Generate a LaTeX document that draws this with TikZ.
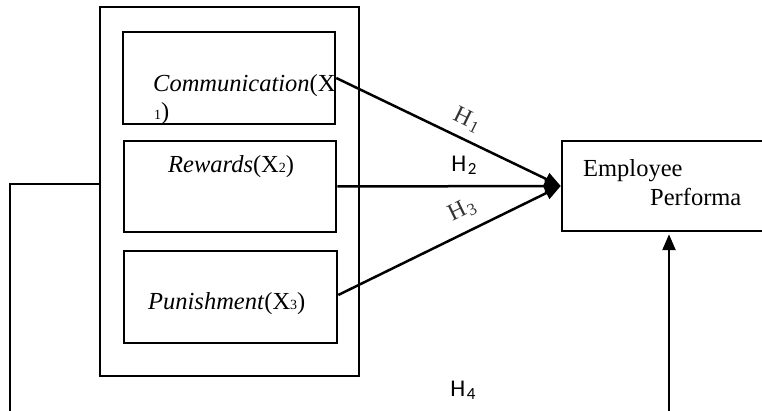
\documentclass[tikz,border=0pt]{standalone}
\usepackage{fontspec}
\setmainfont{Liberation Serif}
\newfontfamily\labelsans{Carlito}
\usetikzlibrary{arrows.meta}

\tikzset{
  frame/.style={draw, line width=2.5pt, inner sep=0pt},
  txt/.style={inner sep=0pt, font=\fontsize{24.5}{28}\selectfont},
  link/.style={line width=2.5pt},
  arrowlink/.style={line width=2.5pt, -{Triangle[length=16pt,width=13pt]}},
  hsans/.style={inner sep=0pt, font=\labelsans\fontsize{24}{28}\selectfont},
  hserif/.style={inner sep=0pt, text=black!80, font=\fontsize{24}{28}\selectfont},
}
\newcommand{\sdig}[1]{{\fontsize{14}{16}\selectfont #1}}
\newcommand{\hsub}[1]{\hspace{1.5pt}\raisebox{-3pt}{\fontsize{17}{19}\selectfont #1}}

\begin{document}
\begin{tikzpicture}[x=1pt,y=-1pt]
  \clip (0,0) rectangle (762,411);

  % predictor group and its three boxes
  \node[frame, minimum width=259pt, minimum height=369pt] (outer) at (229.5,191.5) {};
  \node[frame, minimum width=212pt, minimum height=92pt] (comm) at (229,78) {};
  \node[frame, minimum width=212pt, minimum height=91pt] (rew) at (230,186.5) {};
  \node[frame, minimum width=213pt, minimum height=92pt] (pun) at (230.5,297) {};

  % outcome box (runs past the right edge)
  \node[frame, minimum width=240pt, minimum height=90pt] (emp) at (682,186) {};

  % box texts
  \node[txt, anchor=base west] (commA) at (153,92) {\textit{Communication}(X};
  \node[txt, anchor=base west] (commB) at (154,120) {\sdig{1})};
  \node[txt, anchor=base west] (rewT) at (168,173) {\textit{Rewards}(X\sdig{2})};
  \node[txt, anchor=base west] (punT) at (148,309) {\textit{Punishment}(X\sdig{3})};
  \node[txt, anchor=base west] (empA) at (583,177) {Employee};
  \node[txt, anchor=base west] (empB) at (650,206) {Performa};

  % hypothesised paths
  \draw[arrowlink] (comm.east) -- (emp.west);
  \draw[arrowlink] (rew.east) -- (emp.west);
  \draw[arrowlink] (pun.east |- 0,295) -- (emp.west);

  % path labels
  \node[hserif, rotate=-26] (h1) at (467,120) {H\hsub{1}};
  \node[hsans] (h2) at (464,165) {H\hsub{2}};
  \node[hserif, rotate=26] (h3) at (462,210) {H\hsub{3}};
  \node[hsans] (h4) at (463,390) {H\hsub{4}};

  % overall path around the bottom
  \coordinate (lc) at (10,184);
  \coordinate (lb) at (10,411);
  \coordinate (rb) at (669,411);
  \draw[link] (outer.west |- lc) -- (lc) -- (lb);
  \draw[arrowlink, shorten >=2pt] (rb) -- (rb |- emp.south);
\end{tikzpicture}
\end{document}
